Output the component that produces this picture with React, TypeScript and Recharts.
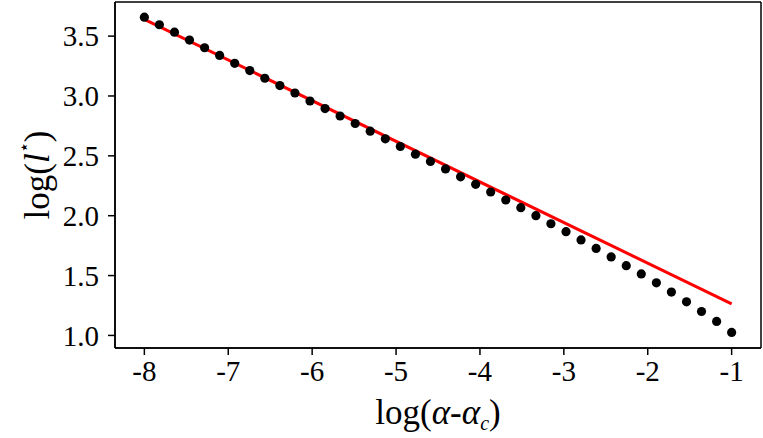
import React from "react"
import { ComposedChart, Scatter, Line, XAxis, YAxis, Label, CartesianGrid } from "recharts"

const xValues = [
  -8, -7.821, -7.641, -7.462, -7.282, -7.103, -6.923, -6.744, -6.564, -6.385,
  -6.205, -6.026, -5.846, -5.667, -5.487, -5.308, -5.128, -4.949, -4.769, -4.59,
  -4.41, -4.231, -4.051, -3.872, -3.692, -3.513, -3.333, -3.154, -2.974, -2.795,
  -2.615, -2.436, -2.256, -2.077, -1.897, -1.718, -1.538, -1.359, -1.179, -1,
]
const yValues = [
  3.658, 3.595, 3.533, 3.467, 3.403, 3.339, 3.273, 3.212, 3.148, 3.087,
  3.025, 2.958, 2.895, 2.833, 2.77, 2.706, 2.642, 2.578, 2.514, 2.453,
  2.391, 2.325, 2.262, 2.198, 2.131, 2.067, 2.0, 1.933, 1.867, 1.798,
  1.727, 1.656, 1.583, 1.514, 1.439, 1.362, 1.281, 1.2, 1.117, 1.025,
]
const fitX = [-8, -1]
const fitY = [3.64, 1.264]
const xTicks = [-8, -7, -6, -5, -4, -3, -2, -1]
const yTicks = [1.0, 1.5, 2.0, 2.5, 3.0, 3.5]
const xDomain = [-8.35, -0.65]
const yDomain = [0.895, 3.785]

const dots = xValues.map((x, i) => ({ x, y: yValues[i] }))
const fit = fitX.map((x, i) => ({ x, y: fitY[i] }))

const FONT = "'Liberation Serif', 'DejaVu Serif', serif"
const tickStyle = { fontFamily: FONT, fontSize: 29, fill: "#000" }

const Dot = (props: any) => <circle cx={props.cx} cy={props.cy} r={4.6} fill="#000" />

export default function App() {
  return (
    <div style={{ position: "absolute", left: 0, top: 0, width: 763, height: 438, background: "#fff" }}>
      <ComposedChart width={763} height={438} data={dots} margin={{ top: 2, right: 2, bottom: 0, left: 0 }}>
        <CartesianGrid
          stroke="#000"
          strokeWidth={1.5}
          horizontalCoordinatesGenerator={({ offset }: any) => [offset.top, offset.top + offset.height]}
          verticalCoordinatesGenerator={({ offset }: any) => [offset.left, offset.left + offset.width]}
        />
        <XAxis
          dataKey="x"
          type="number"
          domain={xDomain}
          ticks={xTicks}
          allowDataOverflow
          height={90}
          tickSize={7}
          tickMargin={5}
          tick={tickStyle}
          stroke="#000"
          strokeWidth={1.5}
          tickFormatter={(v: number) => String(v)}
        >
          <Label
            content={(p: any) => {
              const vb = p.viewBox
              return (
                <text x={vb.x + vb.width / 2} y={vb.y + 76} textAnchor="middle" fontFamily={FONT} fontSize={35} fill="#000">
                  log(<tspan fontStyle="italic">α</tspan>-<tspan fontStyle="italic">α</tspan>
                  <tspan fontStyle="italic" fontSize={20} dy={6}>c</tspan>
                  <tspan dy={-6}>)</tspan>
                </text>
              )
            }}
          />
        </XAxis>
        <YAxis
          dataKey="y"
          type="number"
          domain={yDomain}
          ticks={yTicks}
          allowDataOverflow
          width={115}
          tickSize={7}
          tickMargin={9}
          tick={tickStyle}
          stroke="#000"
          strokeWidth={1.5}
          tickFormatter={(v: number) => v.toFixed(1)}
        >
          <Label
            content={(p: any) => {
              const vb = p.viewBox
              const cx = 37
              const cy = vb.y + vb.height / 2
              return (
                <text x={cx} y={cy} transform={`rotate(-90 ${cx} ${cy})`} textAnchor="middle" dominantBaseline="central" fontFamily={FONT} fontSize={35} fill="#000">
                  log(<tspan fontStyle="italic">l</tspan>
                  <tspan fontSize={18} dy={-13}>⋆</tspan>
                  <tspan dy={13}>)</tspan>
                </text>
              )
            }}
          />
        </YAxis>
        <Scatter dataKey="y" data={dots} shape={Dot} isAnimationActive={false} />
        <Line data={fit} dataKey="y" stroke="#ff0000" strokeWidth={3} dot={false} activeDot={false} isAnimationActive={false} type="linear" />
      </ComposedChart>
    </div>
  )
}
